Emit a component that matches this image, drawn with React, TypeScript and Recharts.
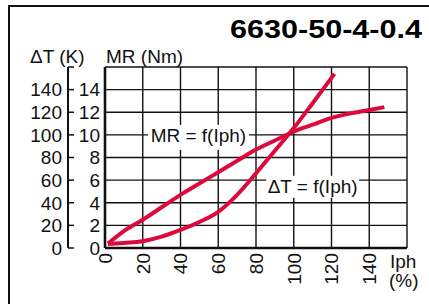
import React from 'react';
import { LineChart, Line, XAxis, YAxis, CartesianGrid, ReferenceDot } from 'recharts';

const title = '6630-50-4-0.4';
const xTicks = [0, 20, 40, 60, 80, 100, 120, 140, 160];
const mrTicks = [0, 2, 4, 6, 8, 10, 12, 14, 16];
const dtTicks = [0, 20, 40, 60, 80, 100, 120, 140, 160];

// MR = f(Iph)
const mrIph = [1.6, 10, 20, 30, 40, 50, 60, 70, 80, 90, 100, 110, 120, 130, 140, 148];
const mrValues = [0.4, 1.5, 2.5, 3.6, 4.7, 5.7, 6.7, 7.7, 8.7, 9.5, 10.3, 10.9, 11.5, 11.9, 12.2, 12.45];

// ΔT = f(Iph)
const dtIph = [1.6, 10, 20, 30, 40, 50, 60, 70, 80, 90, 100, 110, 121.6];
const dtValues = [3.5, 4.5, 6, 10, 16, 23, 32, 47, 66, 86, 106, 128, 154];

const mrData = mrIph.map((x, i) => ({ iph: x, mr: mrValues[i] }));
const dtData = dtIph.map((x, i) => ({ iph: x, dt: dtValues[i] }));

const FONT = '"Liberation Sans", Arial, Helvetica, sans-serif';
const INK = '#111';
const RED = '#DC0A3C';
const FS = 19;

const MR_ID = 'a-mr';
const DT_ID = 'b-dt';

const XTick = (props: any) => {
  const { x, y, payload } = props;
  if (payload.value === 160) return <g />;
  return (
    <g transform={`translate(${x},${y})`}>
      <text transform="rotate(-90)" textAnchor="end" dy="0.36em" fontSize={FS} fontFamily={FONT} fill={INK}>
        {payload.value}
      </text>
    </g>
  );
};

const MrTick = (props: any) => {
  const { x, y, payload } = props;
  if (payload.value === 16) return <g />;
  return (
    <text x={x} y={y} textAnchor="end" dy="0.36em" fontSize={FS} fontFamily={FONT} fill={INK}>
      {payload.value}
    </text>
  );
};

const DtTick = (props: any) => {
  const { x, y, payload } = props;
  return (
    <g>
      <line x1={x + 6} x2={x + 12} y1={y} y2={y} stroke={INK} strokeWidth={1.5} />
      {payload.value !== 160 && (
        <text x={x} y={y} textAnchor="end" dy="0.36em" fontSize={FS} fontFamily={FONT} fill={INK}>
          {payload.value}
        </text>
      )}
    </g>
  );
};

const boxLabel = (text: string, w: number, up: number, down: number) => (p: any) => {
  const { cx, cy } = p;
  return (
    <g>
      <rect x={cx - w / 2} y={cy - up} width={w} height={up + down} fill="#fff" />
      <text x={cx} y={cy} dy="0.36em" textAnchor="middle" fontSize={FS} fontFamily={FONT} fill={INK}>
        {text}
      </text>
    </g>
  );
};

export default function App() {
  return (
    <div style={{ position: 'absolute', left: 0, top: 0, width: 429, height: 304, background: '#fff', overflow: 'hidden' }}>
      <LineChart width={429} height={304} margin={{ top: 67, right: 22, bottom: 16, left: 18 }}>
        <path d="M9 304 V6 H429" fill="none" stroke={INK} strokeWidth={2} />
        <text x={230} y={38} textLength={192} lengthAdjust="spacingAndGlyphs" fontSize={25} fontWeight="bold" fontFamily={FONT} fill="#000">
          {title}
        </text>
        <text x={30} y={63} fontSize={FS} fontFamily={FONT} fill={INK}>ΔT (K)</text>
        <text x={106} y={63} fontSize={FS} fontFamily={FONT} fill={INK}>MR (Nm)</text>
        <text x={390} y={268} fontSize={FS} fontFamily={FONT} fill={INK}>Iph</text>
        <text x={389} y={287} fontSize={FS} fontFamily={FONT} fill={INK}>(%)</text>
        <CartesianGrid yAxisId={MR_ID} stroke={INK} strokeWidth={1.4} />
        <XAxis
          type="number"
          dataKey="iph"
          domain={[0, 160]}
          ticks={xTicks}
          interval={0}
          height={40}
          tickSize={0}
          tickMargin={5}
          tick={<XTick />}
          axisLine={{ stroke: INK, strokeWidth: 2.6 }}
          tickLine={false}
          allowDuplicatedCategory={false}
        />
        <YAxis
          yAxisId={MR_ID}
          type="number"
          domain={[0, 16]}
          ticks={mrTicks}
          interval={0}
          width={37}
          tickSize={0}
          tickMargin={5}
          tick={<MrTick />}
          axisLine={{ stroke: INK, strokeWidth: 2.6 }}
          tickLine={false}
        />
        <YAxis
          yAxisId={DT_ID}
          type="number"
          domain={[0, 160]}
          ticks={dtTicks}
          interval={0}
          width={50}
          tickSize={0}
          tickMargin={6}
          tick={<DtTick />}
          axisLine={{ stroke: INK, strokeWidth: 2 }}
          tickLine={false}
        />
        <ReferenceDot yAxisId={MR_ID} x={49.5} y={10} r={0} shape={boxLabel('MR = f(Iph)', 101, 10, 15)} />
        <ReferenceDot yAxisId={DT_ID} x={110} y={55} r={0} shape={boxLabel('ΔT = f(Iph)', 93, 10, 12)} />
        <Line yAxisId={MR_ID} data={mrData} dataKey="mr" type="monotone" dot={false} stroke={RED} strokeWidth={4} isAnimationActive={false} />
        <Line yAxisId={DT_ID} data={dtData} dataKey="dt" type="monotone" dot={false} stroke={RED} strokeWidth={4} isAnimationActive={false} />
      </LineChart>
    </div>
  );
}
